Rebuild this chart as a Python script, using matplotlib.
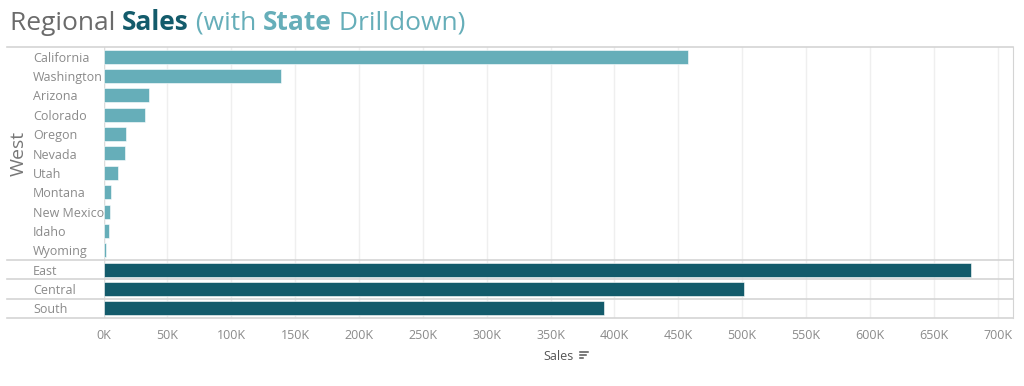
import numpy as np
import matplotlib
matplotlib.use('Agg')
import matplotlib.pyplot as plt
from matplotlib.lines import Line2D
from matplotlib.ticker import FuncFormatter, MultipleLocator

# Data
west_states = ['California', 'Washington', 'Arizona', 'Colorado', 'Oregon', 'Nevada',
               'Utah', 'Montana', 'New Mexico', 'Idaho', 'Wyoming']
west_sales = [457688, 138641, 35282, 32108, 17431, 16729, 11220, 5589, 4784, 4382, 1603]
other_regions = ['East', 'Central', 'South']
other_sales = [678781, 501240, 391722]

light = '#66aeb9'
dark = '#135b6b'
grid_col = '#efefef'
line_col = '#d4d4d4'
label_col = '#8a8a8a'
font = 'Open Sans'

W, H = 1024, 386
fig = plt.figure(figsize=(W / 100, H / 100), dpi=100)

# plot area in pixels
x0, x1 = 103.5, 1013
ytop, ybot = 47, 318
ax = fig.add_axes([x0 / W, (H - ybot) / H, (x1 - x0) / W, (ybot - ytop) / H])

labels = west_states + other_regions
values = west_sales + other_sales
colors = [light] * len(west_states) + [dark] * len(other_regions)
ypos = np.arange(len(labels))

ax.barh(ypos, values, height=0.72, color=colors, edgecolor='white', linewidth=0.4, zorder=3)
ax.set_xlim(0, 712000)
ax.set_ylim(len(labels) - 0.5, -0.5)

ax.xaxis.set_major_locator(MultipleLocator(50000))
ax.xaxis.set_major_formatter(FuncFormatter(lambda v, p: '%dK' % int(round(v / 1000))))
ax.tick_params(axis='x', length=0, pad=8, labelsize=9, labelcolor=label_col)
for t in ax.get_xticklabels():
    t.set_fontfamily(font)
ax.set_yticks([])
ax.grid(axis='x', color=grid_col, linewidth=1, zorder=0)
ax.axvline(0, color='#dddddd', linewidth=1, zorder=2)

for s in ['top', 'bottom', 'left']:
    ax.spines[s].set_visible(False)
ax.spines['right'].set_color(line_col)

# row labels
for y, name in zip(ypos, labels):
    ax.text(-70.5 / (x1 - x0), y + 0.08, name, transform=ax.get_yaxis_transform(),
            ha='left', va='center', fontsize=9, color=label_col, family=font)

# region separators extending into the header column
xl = (7 - x0) / (x1 - x0)
for yb in [-0.5, len(west_states) - 0.5, len(west_states) + 0.5,
           len(west_states) + 1.5, len(west_states) + 2.5]:
    ax.plot([xl, 1], [yb, yb], transform=ax.get_yaxis_transform(), color=line_col,
            linewidth=1.2, clip_on=False, zorder=4)

ax.text(-85 / (x1 - x0), (len(west_states) - 1) / 2, 'West', transform=ax.get_yaxis_transform(),
        rotation=90, ha='center', va='center', fontsize=14, color='#777777', family=font)

# axis title + sort icon
fig.text(559 / W, 1 - 357 / H, 'Sales', ha='center', va='center', fontsize=9,
         color='#555555', family=font)
ix, iy = 580, 352
for k, ln in enumerate([8, 6, 3]):
    fig.add_artist(Line2D([ix / W, (ix + ln) / W], [1 - (iy + 3 * k) / H] * 2,
                          color='#555555', linewidth=1.1))

# title in coloured pieces
parts = [('Regional ', '#6b6b6b', 'normal'), ('Sales', dark, 'bold'),
         (' (with ', light, 'normal'), ('State', light, 'bold'),
         (' Drilldown)', light, 'normal')]
renderer = fig.canvas.get_renderer()
xp = 10
for txt, c, w in parts:
    t = fig.text(xp / W, 1 - 23 / H, txt, ha='left', va='center', fontsize=19,
                 color=c, weight=w, family=font)
    bb = t.get_window_extent(renderer)
    xp += bb.width

fig.savefig('out.png', dpi=100)
